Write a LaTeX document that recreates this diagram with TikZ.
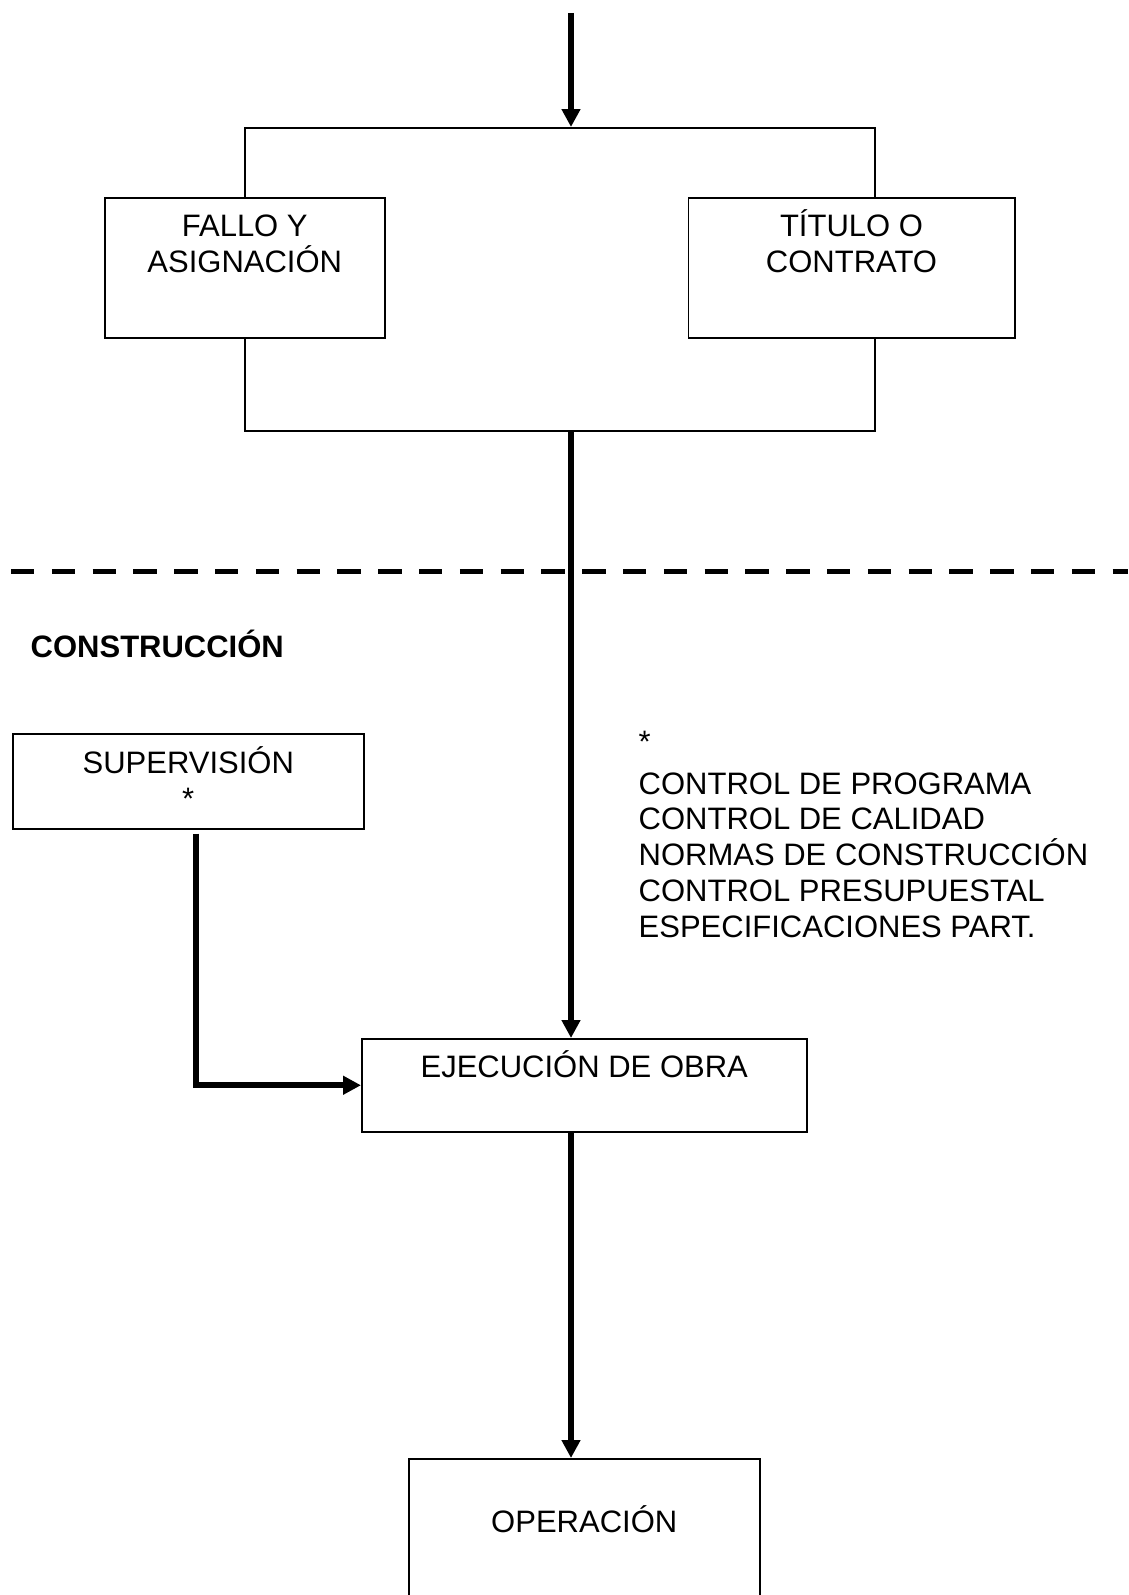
\documentclass[tikz,border=0pt]{standalone}
\usepackage{fontspec}
\setmainfont{Liberation Sans}
\usetikzlibrary{arrows.meta, positioning}
\tikzset{
	x=1pt, y=-1pt, % Un punto por pixel, y hacia abajo
	caja/.style={draw, line width=1.5pt, fill=white, inner sep=0pt, align=center,
		font=\fontsize{31}{36}\selectfont}, % Cajas del proceso
	marco/.style={draw, line width=2pt, inner sep=0pt}, % Marco que une las dos cajas
	flecha/.style={line width=6pt, -{Triangle[width=18pt, length=18pt]}}, % Flechas gruesas
	texto/.style={inner sep=0pt, align=left, font=\fontsize{31}{35.7}\selectfont}, % Texto suelto
	separador/.style={line width=5pt, dash pattern=on 23.3pt off 17.5pt} % Linea de etapas
}

\begin{document}
\begin{tikzpicture}
	\useasboundingbox (0,0) rectangle (1128,1595);
	\coordinate (in1) at (571,13);
	\node[marco, anchor=north west, minimum width=630pt, minimum height=303pt] (M1) at (244,127) {};
	\node[caja, anchor=north west, minimum width=280pt, text height=75pt, text depth=65pt] (F1) at (104,197) {FALLO Y\\ASIGNACIÓN};
	\node[caja, anchor=north west, minimum width=326.5pt, text height=75pt, text depth=65pt] (T1) at (687.5,197) {TÍTULO O\\CONTRATO};

	\draw[separador] (11,571) -- (1128,571);
	\node[texto, font=\bfseries\fontsize{31}{35.7}\selectfont, anchor=base west] (C1) at (30.5,657) {CONSTRUCCIÓN};

	\node[caja, anchor=north west, minimum width=351pt, text height=76pt, text depth=19pt] (S1) at (12,733) {SUPERVISIÓN\\*};
	\node[texto, anchor=base west] (L1) at (638.5,937) {*\\[6.3pt]CONTROL DE PROGRAMA\\CONTROL DE CALIDAD\\NORMAS DE CONSTRUCCIÓN\\CONTROL PRESUPUESTAL\\ESPECIFICACIONES PART.};

	\node[caja, anchor=north west, minimum width=445pt, text height=39pt, text depth=54pt] (E1) at (361,1038) {EJECUCIÓN DE OBRA};
	\node[caja, anchor=north west, minimum width=351pt, text height=74pt, text depth=120pt] (O1) at (408,1458) {OPERACIÓN};

	\draw[flecha] (in1) -- (in1 |- M1.north);
	\draw[flecha] (in1 |- M1.south) -- (in1 |- E1.north);
	\draw[flecha] ([xshift=8pt, yshift=-4pt]S1.south) |- (E1.west);
	\draw[flecha] (in1 |- E1.south) -- (in1 |- O1.north);
\end{tikzpicture}
\end{document}
